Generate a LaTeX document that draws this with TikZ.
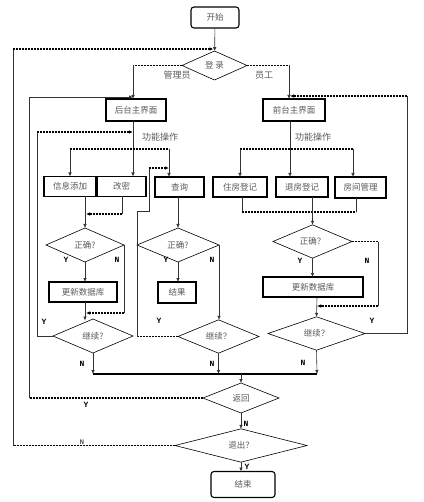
\documentclass[tikz,border=0pt]{standalone}
\usepackage{fontspec}
\newfontfamily\cjk{Noto Sans CJK SC}
\newfontfamily\labfont{Liberation Mono}
\usetikzlibrary{shapes.geometric,arrows.meta}
\begin{document}
\begin{tikzpicture}[x=1pt,y=-1pt,
 box/.style={draw,line width=1.1pt,inner sep=0pt,outer sep=0pt,font=\cjk\fontsize{8.5}{10}\selectfont,text=black!65},
 term/.style={box,rounded corners=3pt},
 dia/.style={diamond,draw,line width=0.6pt,inner sep=0pt,outer sep=0pt,font=\cjk\fontsize{8.5}{10}\selectfont,text=black!65},
 ln/.style={line width=0.6pt,draw=black!80},
 dl/.style={line width=1.3pt,dash pattern=on 2.2pt off 0.8pt},
 thickline/.style={line width=1.4pt},
 arr/.style={-{Latex[length=4pt,width=3.5pt]}},
 yn/.style={font=\labfont\bfseries\fontsize{8}{9}\selectfont,inner sep=0pt},
 captext/.style={font=\cjk\fontsize{9}{10}\selectfont,text=black!65,inner sep=0pt}]
\useasboundingbox (0,0) rectangle (423,502);

% ---------- nodes ----------
\node[term,minimum width=48pt,minimum height=21pt] (start) at (215,17.5) {开始};
\node[dia,minimum width=65pt,minimum height=29pt] (login) at (214.5,65.5) {登 录};
\node[box,minimum width=60pt,minimum height=22pt] (back) at (136,110) {后台主界面};
\node[box,minimum width=62pt,minimum height=22pt] (front) at (294,110) {前台主界面};

\node[box,minimum width=52pt,minimum height=20pt] (add) at (70,186.5) {信息添加};
\node[box,minimum width=49pt,minimum height=20pt] (pwd) at (121.5,186.5) {改密\hspace{17pt}};
\node[box,minimum width=49pt,minimum height=20pt] (query) at (179.5,187) {查询};
\node[box,minimum width=54pt,minimum height=20pt] (live) at (240,187) {住房登记};
\node[box,minimum width=52pt,minimum height=20pt] (leave) at (302,187) {退房登记};
\node[box,minimum width=51pt,minimum height=21pt] (room) at (360.5,187.5) {房间管理};

\node[dia,minimum width=78pt,minimum height=34pt] (ok1) at (85,245) {正确?};
\node[box,minimum width=68pt,minimum height=20pt] (upd1) at (83,292) {更新数据库};
\node[dia,minimum width=80pt,minimum height=34pt] (cont1) at (93,336) {继续?};

\node[dia,minimum width=82pt,minimum height=34pt] (ok2) at (178,245) {正确?};
\node[box,minimum width=38pt,minimum height=21pt] (res) at (177,292.5) {结果};
\node[dia,minimum width=81pt,minimum height=33pt] (cont2) at (218.5,336.5) {继续？};

\node[dia,minimum width=79pt,minimum height=31pt] (ok3) at (312.5,241.5) {正确？};
\node[box,minimum width=100pt,minimum height=20pt] (upd3) at (313,287) {更新数据库};
\node[dia,minimum width=97pt,minimum height=29pt] (cont3) at (316.5,333.5) {继续？};

\node[dia,minimum width=76pt,minimum height=30pt] (ret) at (241,398) {返回};
\node[dia,minimum width=132pt,minimum height=29pt] (quit) at (241,445.5) {退出？};
\node[term,minimum width=64pt,minimum height=26pt] (end) at (243,484.5) {结束};

% ---------- labels ----------
\node[captext] (lmgr) at (177,75) {管理员};
\node[captext] (lemp) at (264,75) {员工};
\node[captext] (lf1) at (160,137) {功能操作};
\node[captext] (lf2) at (313,137) {功能操作};
\node[yn] (y1) at (66,260) {Y};
\node[yn] (n1) at (117,260) {N};
\node[yn] (y2) at (166,260) {Y};
\node[yn] (n2) at (212,260) {N};
\node[yn] (y3) at (300,261) {Y};
\node[yn] (n3) at (367,261) {N};
\node[yn] (yc1) at (44,322) {Y};
\node[yn] (yc2) at (159,321) {Y};
\node[yn] (yc3) at (372,321) {Y};
\node[yn] (nc1) at (82,364) {N};
\node[yn] (nc2) at (212,364) {N};
\node[yn] (nc3) at (303,363) {N};
\node[yn] (yret) at (86,405) {Y};
\node[yn] (nret) at (246,424) {N};
\node[yn] (yquit) at (247,467) {Y};
\node[font=\labfont\fontsize{7}{8}\selectfont,inner sep=0pt] (nquit) at (82,442) {N};

% ---------- coordinates ----------
\coordinate (lgL) at (133,65.5);
\coordinate (lgR) at (289,65.5);
\coordinate (exA) at (13,445.5);
\coordinate (exB) at (13,49);
\coordinate (rtA) at (29,398);
\coordinate (rtB) at (29,97);
\coordinate (rtC) at (133,97);
\coordinate (rlA) at (407,333.5);
\coordinate (rlB) at (407,96);
\coordinate (rlC) at (290,96);
\coordinate (c1A) at (37,336);
\coordinate (c1B) at (37,132);
\coordinate (c1C) at (133,132);
\coordinate (brL1) at (70,149);
\coordinate (brL2) at (169,149);
\coordinate (brR1) at (240,149);
\coordinate (brR2) at (353,149);
\coordinate (pwA) at (122,214);
\coordinate (pwB) at (85,214);
\coordinate (n1A) at (124,313);
\coordinate (n1B) at (85,313);
\coordinate (c2A) at (137,336.5);
\coordinate (c2B) at (137,211);
\coordinate (c2C) at (149,211);
\coordinate (c2D) at (149,168);
\coordinate (c2E) at (169,168);
\coordinate (rbL) at (242,212);
\coordinate (rbR) at (356,212);
\coordinate (n3A) at (378,241.5);
\coordinate (n3B) at (378,306);
\coordinate (n3C) at (317,306);
\coordinate (mgL) at (93,374);
\coordinate (mgM) at (218.5,374);
\coordinate (mgR) at (317,374);
\coordinate (mgC) at (241,374);

% ---------- connectors ----------
\draw[ln,arr] (start) -- (login);
% exit loop
\draw[dl] (quit.west) -- (exA);
\draw[ln] (exA) -- (exB);
\draw[dl,arr] (exB) -- ([xshift=-1pt,yshift=2pt]login.north);
% login branches
\draw[dl] (login.west) -- (lgL);
\draw[ln,arr] (lgL) -- (lgL |- back.north);
\draw[dl] (login.east) -- (lgR);
\draw[ln,arr] (lgR) -- (lgR |- front.north);
% return loop
\draw[dl] (ret.west) -- (rtA);
\draw[ln] (rtA) -- (rtB);
\draw[ln,line width=0.9pt,arr] (rtB) -- (rtC);
% right continue loop
\draw[ln] (cont3.east) -- (rlA) -- (rlB);
\draw[dl,arr] (rlB) -- (rlC);
% left continue loop
\draw[ln] (cont1.west) -- (c1A) -- (c1B);
\draw[dl,arr] (c1B) -- (c1C);

% left function branch
\draw[ln,arr] (back.south -| lgL) -- (lgL |- pwd.north);
\draw[dl] (brL1) -- (brL2);
\draw[ln,arr] (brL1) -- (brL1 |- add.north);
\draw[ln,arr] (brL2) -- (brL2 |- query.north);
% right function branch
\draw[ln,arr] (front.south -| rlC) -- (rlC |- leave.north);
\draw[dl] (brR1) -- (brR2);
\draw[ln,arr] (brR1) -- (brR1 |- live.north);
\draw[ln,arr] (brR2) -- (brR2 |- room.north);

% left column
\draw[ln,arr] (pwB |- add.south) -- (ok1.north);
\draw[ln] (pwA |- pwd.south) -- (pwA);
\draw[dl,arr] (pwA) -- ([xshift=1pt]pwB);
\draw[ln] (ok1.east) -- (n1A);
\draw[dl,arr] (n1A) -- ([xshift=1pt]n1B);
\draw[ln,arr] (ok1.south) -- (ok1.south |- upd1.north);
\draw[ln,arr] (ok1.south |- upd1.south) -- (85,320.5);
\draw[ln,arr] (cont1.south) -- (mgL);

% middle column
\draw[ln,arr] (query.south -| ok2.north) -- (ok2.north);
\draw[ln,arr] (ok2.south) -- (ok2.south |- res.north);
\draw[ln,arr] (ok2.east) -- (ok2.east |- cont2.north);
\draw[dl] (cont2.west) -- (c2A);
\draw[ln] (c2A) -- (c2B) -- (c2C) -- (c2D);
\draw[dl,arr] (c2D) -- (c2E);
\draw[ln,arr] (cont2.south) -- (mgM);

% right column
\draw[ln] (rbL |- live.south) -- (rbL);
\draw[ln] (rbR |- room.south) -- (rbR);
\draw[dl] (rbL) -- (rbR);
\draw[ln,arr] (ok3.north |- leave.south) -- (ok3.north);
\draw[ln,arr] (ok3.south) -- (ok3.south |- upd3.north);
\draw[dl] (ok3.east) -- (n3A);
\draw[ln] (n3A) -- (n3B);
\draw[dl,arr] (n3B) -- (n3C);
\draw[ln,arr] (n3C |- upd3.south) -- (cont3.north);
\draw[ln,arr] (cont3.south) -- (mgR);

% merge and bottom
\draw[thickline] (mgL) -- (mgR);
\draw[ln,arr] (mgC) -- (ret.north);
\draw[ln,arr] (ret.south) -- (quit.north);
\draw[ln,arr] (quit.south) -- (quit.south |- end.north);
\end{tikzpicture}
\end{document}
